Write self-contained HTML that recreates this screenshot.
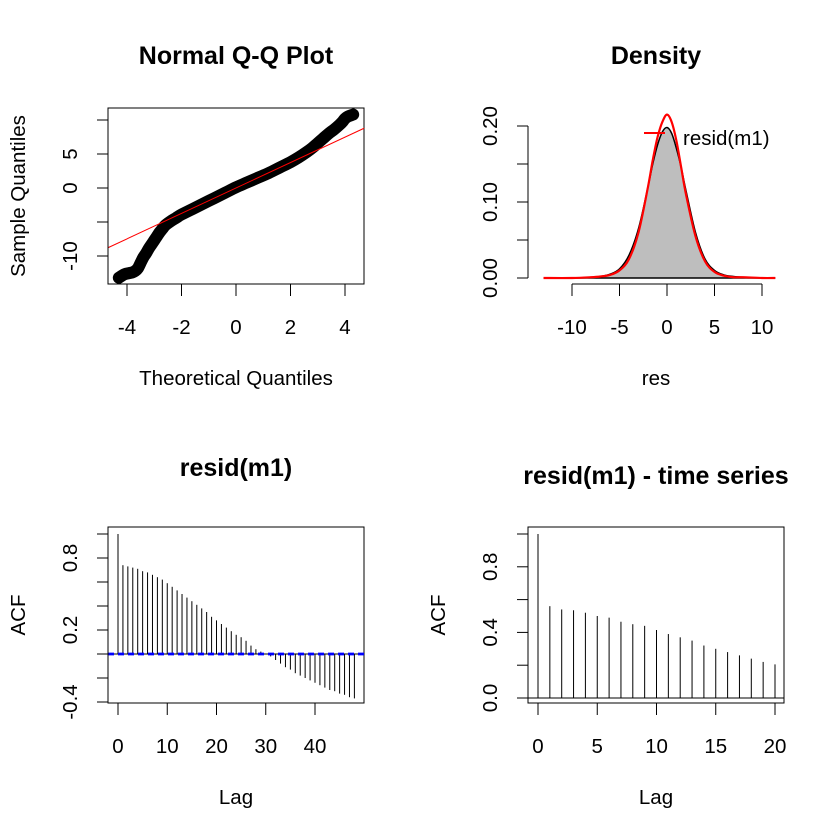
<!DOCTYPE html>
<html><head><meta charset="utf-8"><style>
body{margin:0;background:#fff}
svg{display:block;font-family:"Liberation Sans",Arial,sans-serif}
</style></head><body>
<svg id="s" width="840" height="839" viewBox="0 0 840 839" xmlns="http://www.w3.org/2000/svg"></svg>
<script>
// QQ plot data (theoretical, sample)
const qqTheo = [-4.3,-4.1,-3.9,-3.8,-3.7,-3.6,-3.5,-3.4,-3.3,-3.2,-3.1,-3.0,-2.9,-2.8,-2.7,-2.6,-2.4,-2.2,-2.0,-1.6,-1.2,-0.8,-0.4,0,0.4,0.8,1.2,1.6,2.0,2.3,2.6,2.8,3.0,3.2,3.4,3.6,3.8,3.9,4.0,4.1,4.3];
const qqSamp = [-13.2,-12.7,-12.5,-12.4,-12.2,-11.8,-11.0,-10.2,-9.6,-8.9,-8.3,-7.7,-7.1,-6.5,-6.0,-5.5,-4.9,-4.4,-3.9,-3.1,-2.3,-1.5,-0.7,0.1,0.8,1.5,2.2,3.0,3.8,4.5,5.3,5.9,6.6,7.3,8.0,8.6,9.3,9.7,10.2,10.5,10.8];
const qqSlope = 1.87, qqIntercept = 0;
const qqXTicks = [-4,-2,0,2,4];
const qqYTicks = [10,5,0,-5,-10];
const qqYLabels = ["","5","0","","-10"];
// Density
const densX = [-13,-10,-8,-7,-6,-5,-4,-3,-2,-1.5,-1,-0.5,0,0.5,1,1.5,2,3,4,5,6,7,8,10,11.4];
const densBlack = [0,0,0.001,0.002,0.005,0.012,0.03,0.065,0.12,0.15,0.175,0.192,0.198,0.19,0.17,0.145,0.115,0.06,0.025,0.01,0.004,0.002,0.001,0,0];
const densRed = [0,0,0.001,0.002,0.004,0.01,0.025,0.06,0.12,0.155,0.185,0.205,0.215,0.205,0.18,0.145,0.11,0.055,0.022,0.008,0.003,0.001,0.001,0,0];
const densXTicks = [-10,-5,0,5,10];
const densYTicks = [0,0.05,0.1,0.15,0.2];
const densYLabels = ["0.00","","0.10","","0.20"];
// ACF 1
const acf1 = [1,.74,.73,.72,.71,.69,.68,.66,.64,.62,.59,.56,.53,.50,.47,.44,.41,.38,.35,.31,.28,.25,.22,.19,.16,.14,.11,.07,.04,.02,0,-.02,-.05,-.08,-.11,-.13,-.16,-.18,-.20,-.22,-.24,-.26,-.28,-.30,-.31,-.33,-.34,-.36,-.37];
const acf1Ci = 0.005;
const acf1XTicks = [0,10,20,30,40];
const acf1YTicks = [-0.4,-0.2,0,0.2,0.4,0.6,0.8,1.0];
const acf1YLabels = ["-0.4","","","0.2","","","0.8",""];
// ACF 2
const acf2 = [1,.56,.54,.535,.52,.50,.49,.465,.45,.44,.415,.39,.37,.35,.32,.30,.28,.26,.24,.22,.205];
const acf2XTicks = [0,5,10,15,20];
const acf2YTicks = [0,0.2,0.4,0.6,0.8,1.0];
const acf2YLabels = ["0.0","","0.4","","0.8",""];

const svg = document.getElementById('s');
const NS = 'http://www.w3.org/2000/svg';
const FS = 20.5;
function mk(tag, attrs, parent){const e=document.createElementNS(NS,tag);for(const k in attrs)e.setAttribute(k,attrs[k]);(parent||svg).appendChild(e);return e;}
function txt(s, attrs, parent){const e=mk('text',attrs,parent);e.textContent=s;return e;}
function lin(d0,d1,r0,r1){return v=>r0+(v-d0)*(r1-r0)/(d1-d0);}
function smooth(p){let d=`M${p[0][0]},${p[0][1]}`;for(let i=0;i<p.length-1;i++){const a=p[Math.max(0,i-1)],b=p[i],c=p[i+1],e=p[Math.min(p.length-1,i+2)];
  d+=` C${b[0]+(c[0]-a[0])/6},${b[1]+(c[1]-a[1])/6} ${c[0]-(e[0]-b[0])/6},${c[1]-(e[1]-b[1])/6} ${c[0]},${c[1]}`;}return d;}

function axes(g, o){
  const xa = mk('g',{},g);
  
  
  const xs=o.xTicks.map(o.x);
  mk('line',{x1:xs[0],x2:xs[xs.length-1],y1:o.xAxisY,y2:o.xAxisY,stroke:'#000','stroke-width':1},xa);
  o.xTicks.forEach((t,i)=>{mk('line',{x1:xs[i],x2:xs[i],y1:o.xAxisY,y2:o.xAxisY+12,stroke:'#000'},xa);
    txt(String(t),{x:xs[i],y:o.xAxisY+50,'font-size':FS,'text-anchor':'middle'},xa);});
  const ya = mk('g',{},g);
  
  
  const ys=o.yTicks.map(o.y);
  mk('line',{x1:o.yAxisX,x2:o.yAxisX,y1:Math.min(...ys),y2:Math.max(...ys),stroke:'#000'},ya);
  o.yTicks.forEach((t,i)=>{mk('line',{x1:o.yAxisX-11,x2:o.yAxisX,y1:ys[i],y2:ys[i],stroke:'#000'},ya);
    if(o.yLabels[i]) txt(o.yLabels[i],{x:0,y:0,transform:`translate(${o.yAxisX-31},${ys[i]}) rotate(-90)`,'font-size':FS,'text-anchor':'middle'},ya);});
  const xt=txt(o.xTitle,{x:o.cx,y:o.xAxisY+101,'font-size':FS,'text-anchor':'middle'},g);
  
  
  const yt=txt(o.yTitle,{x:0,y:0,transform:`translate(${o.yAxisX-83},${o.cy}) rotate(-90)`,'font-size':FS,'text-anchor':'middle'},g);
  
  
  const tt=txt(o.title,{x:o.cx,y:o.titleY,'font-size':25,'font-weight':'bold','text-anchor':'middle'},g);
  
  
}
function box(g,x0,y0,x1,y1,id){const r=mk('rect',{x:x0,y:y0,width:x1-x0,height:y1-y0,fill:'none',stroke:'#000'},g);
  
  }

// ---- Panel 1: QQ
{
 const g=mk('g',{});
 
 
 const x=lin(-4,4,127,345), y=lin(0,5,188,154);
 box(g,108,108,364,284,'qq');
 const P=qqTheo.map((t,i)=>[x(t),y(qqSamp[i])]);
 const band=mk('path',{d:smooth(P),fill:'none',stroke:'#000','stroke-width':12,'stroke-linejoin':'round','stroke-linecap':'round'},g);
 
 
 const pg=mk('g',{},g);
 
 
 qqTheo.forEach((t,i)=>{const c=mk('circle',{cx:x(t),cy:y(qqSamp[i]),r:5,fill:'none',stroke:'#000'},pg);
   
   });
 const t0=-4.7,t1=4.7;
 const rl=mk('line',{x1:x(t0),y1:y(qqIntercept+qqSlope*t0),x2:x(t1),y2:y(qqIntercept+qqSlope*t1),stroke:'#f00','stroke-width':1},g);
 
 
 axes(g,{id:'qq',x,y,xTicks:qqXTicks,yTicks:qqYTicks,yLabels:qqYLabels,xAxisY:284,yAxisX:108,xTitle:'Theoretical Quantiles',yTitle:'Sample Quantiles',title:'Normal Q-Q Plot',cx:236,cy:196,titleY:64});
}
// ---- Panel 2: Density
{
 const g=mk('g',{});
 
 
 const x=lin(0,10,667,762), y=lin(0,0.2,278,126);
 const BP=densX.map((t,i)=>[x(t),y(densBlack[i])]);
 const fill=mk('path',{d:smooth(BP)+` L${x(densX[densX.length-1])},${y(0)} L${x(densX[0])},${y(0)} Z`,fill:'#bebebe',stroke:'#000','stroke-width':1.5},g);
 
 
 const RP=densX.map((t,i)=>[x(t),y(densRed[i])]);
 const rl=mk('path',{d:smooth(RP),fill:'none',stroke:'#f00','stroke-width':2.2},g);
 
 
 const lg=mk('g',{},g);
 
 
 mk('line',{x1:644,x2:665,y1:133,y2:133,stroke:'#f00','stroke-width':2},lg);
 txt('resid(m1)',{x:683,y:145,'font-size':FS},lg);
 axes(g,{id:'density',x,y,xTicks:densXTicks,yTicks:densYTicks,yLabels:densYLabels,xAxisY:284,yAxisX:528,xTitle:'res',yTitle:'',title:'Density',cx:656,cy:196,titleY:64});
}
// ---- Panel 3: ACF
{
 const g=mk('g',{});
 
 
 const x=lin(0,40,118,315), y=lin(0,1,654,534);
 box(g,108,527,364,703,'acf1');
 mk('line',{x1:108,x2:364,y1:y(0),y2:y(0),stroke:'#000'},g);
 acf1.forEach((v,i)=>{const l=mk('line',{x1:x(i),x2:x(i),y1:y(0),y2:y(v),stroke:'#000'},g);
   
   });
 [acf1Ci,-acf1Ci].forEach(c=>{const l=mk('line',{x1:108,x2:364,y1:y(c),y2:y(c),stroke:'#00f','stroke-width':1.5,'stroke-dasharray':'6 4'},g);
   
   });
 axes(g,{id:'acf1',x,y,xTicks:acf1XTicks,yTicks:acf1YTicks,yLabels:acf1YLabels,xAxisY:703,yAxisX:108,xTitle:'Lag',yTitle:'ACF',title:'resid(m1)',cx:236,cy:615,titleY:476});
}
// ---- Panel 4: ACF time series
{
 const g=mk('g',{});
 
 
 const x=lin(0,20,538,775), y=lin(0,1,698,534);
 box(g,528,527,784,703,'acf2');
 mk('line',{x1:528,x2:784,y1:y(0),y2:y(0),stroke:'#000'},g);
 acf2.forEach((v,i)=>{const l=mk('line',{x1:x(i),x2:x(i),y1:y(0),y2:y(v),stroke:'#000'},g);
   
   });
 axes(g,{id:'acf2',x,y,xTicks:acf2XTicks,yTicks:acf2YTicks,yLabels:acf2YLabels,xAxisY:703,yAxisX:528,xTitle:'Lag',yTitle:'ACF',title:'resid(m1) - time series',cx:656,cy:615,titleY:484});
}
</script>
</body></html>
